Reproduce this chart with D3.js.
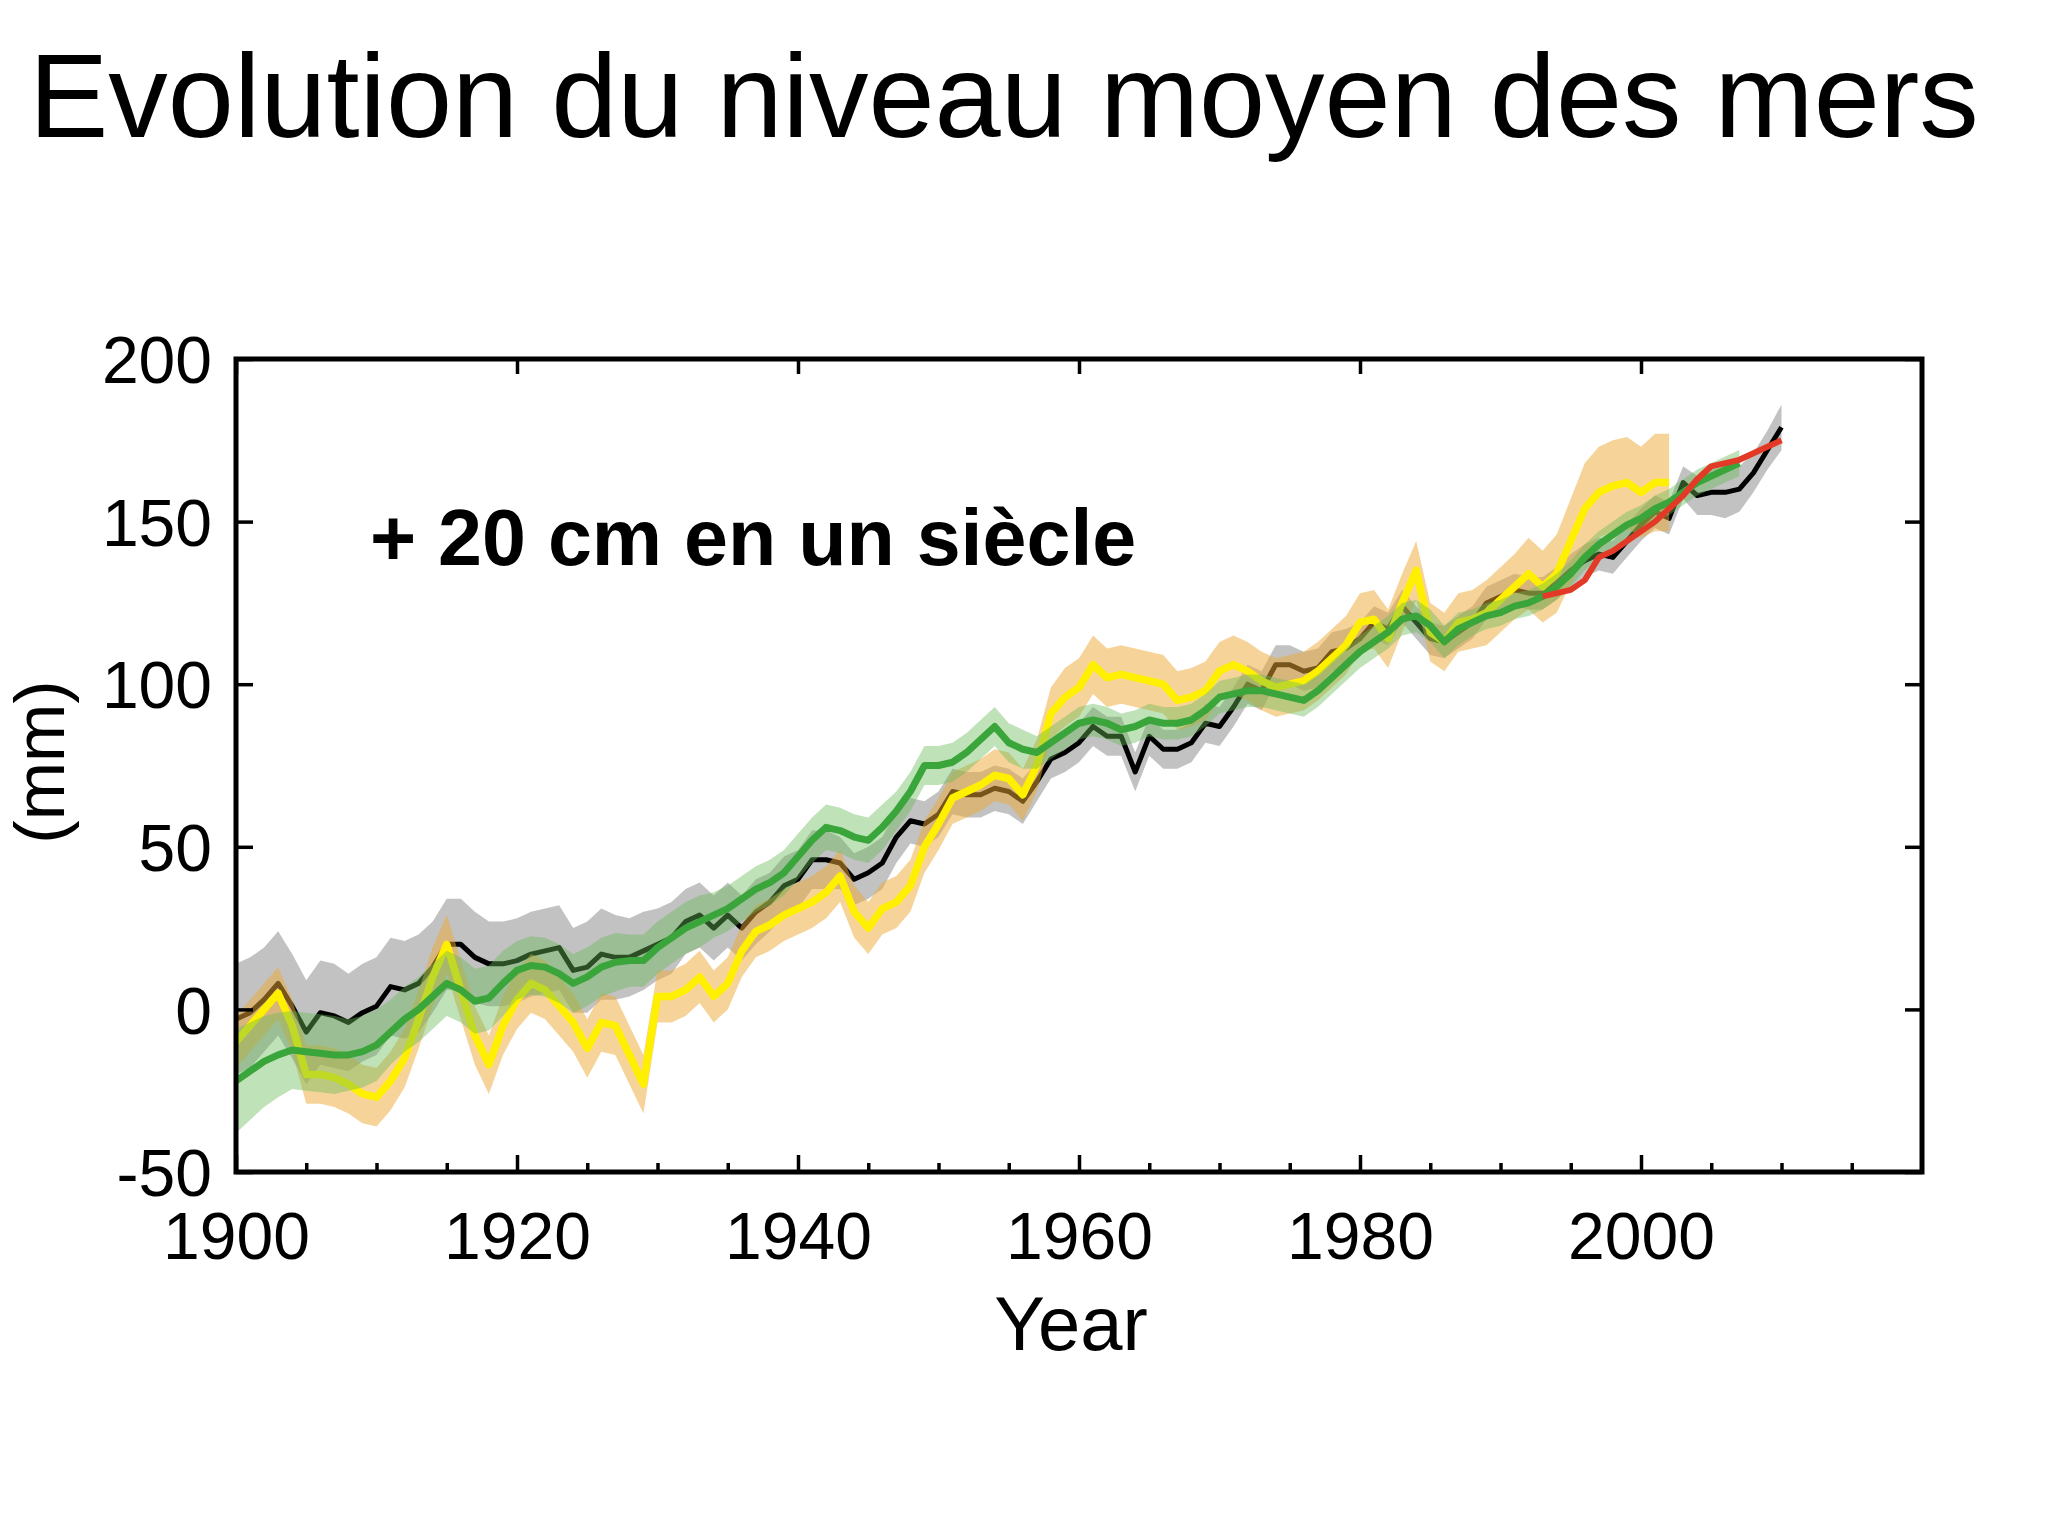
<!DOCTYPE html>
<html>
<head>
<meta charset="utf-8">
<script src="https://cdn.jsdelivr.net/npm/d3@7"></script>
<style>
  html, body { margin: 0; padding: 0; background: #ffffff; }
  svg { display: block; }
  text { font-family: "Liberation Sans", Arial, Helvetica, sans-serif; fill: #000; }
</style>
</head>
<body>
<svg id="chart" width="2048" height="1536"></svg>
<script>
// ---------------- DATA ----------------
const title = "Evolution du niveau moyen des mers";
const annotation = "+ 20 cm en un siècle";
const xLabel = "Year";
const yLabel = "(mm)";
const xTickValues = [1900, 1920, 1940, 1960, 1980, 2000];
const xMinorTickValues = [1905, 1910, 1915, 1925, 1930, 1935, 1945, 1950, 1955, 1965, 1970, 1975, 1985, 1990, 1995, 2005, 2010, 2015];
const yTickValues = [-50, 0, 50, 100, 150, 200];

// Black series (tide-gauge reconstruction), annual from 1900
const blackStart = 1900;
const blackValues = [
  -3, -1, 3, 8, 1, -7, -1, -2, -4, -1,
  1, 7, 6, 8, 13, 20, 20, 16, 14, 14,
  15, 17, 18, 19, 12, 13, 17, 16, 16, 18,
  20, 22, 27, 29, 25, 29, 25, 30, 33, 38,
  40, 46, 46, 45, 40, 42, 45, 53, 58, 57,
  60, 67, 66, 66, 68, 67, 64, 70, 77, 79,
  82, 87, 84, 84, 73, 84, 80, 80, 82, 88,
  87, 93, 100, 98, 106, 106, 104, 105, 110, 111,
  114, 119, 117, 124, 119, 114, 113, 116, 119, 125,
  127, 129, 128, 128, 131, 135, 138, 140, 139, 144,
  149, 153, 151, 162, 158, 159, 159, 160, 165, 172,
  179
];
const blackErr = [
  17, 17, 16, 16, 16, 16, 16, 16, 15, 15,
  15, 15, 15, 15, 14, 14, 14, 14, 13, 13,
  13, 13, 13, 13, 13, 14, 14, 13, 12, 12,
  11, 11, 10, 10, 10, 10, 10, 10, 9, 9,
  9, 9, 9, 8, 8, 8, 8, 8, 7, 7,
  7, 7, 7, 7, 7, 7, 7, 6, 6, 6,
  6, 6, 6, 6, 6, 6, 6, 6, 6, 6,
  6, 6, 6, 6, 6, 6, 6, 6, 6, 6,
  5, 5, 5, 5, 5, 5, 5, 5, 5, 5,
  5, 5, 5, 5, 5, 5, 5, 5, 5, 5,
  5, 5, 5, 5, 6, 7, 8, 7, 6, 6,
  7
];

// Yellow series, annual from 1900 to 2002
const yellowStart = 1900;
const yellowValues = [
  -10, -5, 0, 5, -5, -20, -20, -21, -23, -26,
  -27, -22, -15, -3, 10, 20, 6, -8, -17, -5,
  3, 8, 6, 1, -4, -12, -4, -5, -14, -23,
  4, 4, 6, 10, 4, 8, 18, 24, 26, 29,
  31, 33, 36, 41, 30, 25, 31, 33, 38, 50,
  57, 65, 67, 69, 72, 71, 66, 75, 91, 96,
  99, 106, 102, 103, 102, 101, 100, 95, 96, 98,
  104, 106, 104, 101, 99, 100, 101, 104, 108, 112,
  119, 120, 114, 125, 135, 116, 113, 119, 120, 122,
  126, 130, 134, 130, 134, 144, 154, 159, 161, 162,
  159, 162, 162
];
const yellowErr = [
  8, 8, 8, 8, 8, 9, 9, 9, 9, 9,
  9, 9, 9, 9, 9, 9, 9, 9, 9, 9,
  9, 9, 9, 9, 9, 9, 9, 9, 9, 9,
  8, 8, 8, 8, 8, 8, 8, 8, 8, 8,
  8, 8, 8, 8, 8, 8, 8, 8, 8, 8,
  8, 8, 8, 8, 8, 8, 8, 8, 8, 9,
  9, 9, 9, 9, 9, 9, 9, 9, 9, 9,
  9, 9, 9, 9, 9, 9, 9, 9, 9, 9,
  9, 9, 9, 9, 9, 9, 9, 9, 9, 10,
  10, 10, 11, 11, 12, 13, 14, 14, 14, 14,
  14, 15, 15
];

// Green series, annual from 1900 to 2007
const greenStart = 1900;
const greenValues = [
  -22, -19, -16, -14, -12.5, -13, -13.5, -14, -14, -13,
  -11, -7, -3, 0, 4, 8, 6, 2.5, 3.5, 8,
  12, 13.5, 13, 11, 8, 10, 13, 14.5, 15, 15,
  19, 22, 25, 27, 29, 31, 34, 37, 39, 42,
  47, 52, 56, 55, 53, 52, 56, 61, 67, 75,
  75, 76, 79, 83, 87, 82, 80, 79, 82, 85,
  88, 89, 88, 86, 87, 89, 88, 88, 89, 92,
  96, 97, 98, 98, 97, 96, 95, 98, 102, 106,
  110, 113, 116, 120, 121, 118, 113, 117, 119, 121,
  122, 124, 125, 127, 130, 134, 139, 143, 146, 149,
  151, 154, 156, 159, 162, 164, 166, 168
];
const greenErr = [
  16, 15, 14, 13, 12, 12, 12, 12, 11, 11,
  11, 10, 10, 10, 10, 10, 10, 10, 10, 10,
  9, 9, 9, 9, 9, 9, 9, 9, 8, 8,
  8, 8, 8, 8, 7, 7, 7, 7, 7, 7,
  7, 7, 7, 7, 7, 7, 7, 6, 6, 6,
  6, 6, 6, 6, 6, 6, 6, 5, 5, 5,
  5, 5, 5, 5, 5, 5, 5, 5, 5, 5,
  5, 5, 5, 5, 5, 5, 5, 5, 5, 5,
  5, 5, 5, 5, 5, 5, 5, 5, 4, 4,
  4, 4, 4, 4, 4, 4, 4, 4, 4, 4,
  4, 4, 4, 4, 4, 4, 4, 4
];

// Red series (satellite altimetry), annual from 1993 to 2010
const redStart = 1993;
const redValues = [
  127, 128, 129, 132, 139, 141, 144, 147, 150, 154,
  158, 163, 167, 168, 169, 171, 173, 175
];

// ---------------- BUILD ----------------
(function () {
function toPoints(start, values, errs) {
  return values.map((v, i) => ({ year: start + i, v: v, e: errs ? errs[i] : 0 }));
}
const black = toPoints(blackStart, blackValues, blackErr);
const yellow = toPoints(yellowStart, yellowValues, yellowErr);
const green = toPoints(greenStart, greenValues, greenErr);
const red = toPoints(redStart, redValues, null);

const svg = d3.select("#chart");
const pL = 236, pR = 1922, pT = 359, pB = 1172;

const x = d3.scaleLinear().domain([1900, 2020]).range([pL, pR]);
const y = d3.scaleLinear().domain([-50, 200]).range([pB, pT]);

// Title
const titleText = svg.append("text")
  .attr("x", 29).attr("y", 137)
  .style("font-size", "118px")
  .text(title);
const tw = titleText.node().getComputedTextLength();
if (tw > 0) {
  const fs = Math.max(100, Math.min(130, 118 * 1950 / tw));
  titleText.style("font-size", fs + "px");
}

// Plot clip
svg.append("clipPath").attr("id", "plotclip")
  .append("rect").attr("x", pL).attr("y", pT)
  .attr("width", pR - pL).attr("height", pB - pT);

const plot = svg.append("g").attr("clip-path", "url(#plotclip)");

const area = d3.area()
  .x(d => x(d.year))
  .y0(d => y(d.v - d.e))
  .y1(d => y(d.v + d.e));
const line = d3.line()
  .x(d => x(d.year))
  .y(d => y(d.v));

// gray band + black line
plot.append("path").datum(black).attr("d", area)
  .attr("fill", "#9a9a9a").attr("fill-opacity", 0.6);
plot.append("path").datum(black).attr("d", line)
  .attr("fill", "none").attr("stroke", "#000").attr("stroke-width", 5)
  .attr("stroke-linejoin", "round");

// orange band + yellow line
plot.append("path").datum(yellow).attr("d", area)
  .attr("fill", "#eeaa33").attr("fill-opacity", 0.5);
plot.append("path").datum(yellow).attr("d", line)
  .attr("fill", "none").attr("stroke", "#fff000").attr("stroke-width", 7.5)
  .attr("stroke-linejoin", "round");

// light-green band + green line
plot.append("path").datum(green).attr("d", area)
  .attr("fill", "#66bb55").attr("fill-opacity", 0.42);
plot.append("path").datum(green).attr("d", line)
  .attr("fill", "none").attr("stroke", "#3aa53a").attr("stroke-width", 7)
  .attr("stroke-linejoin", "round");

// red line
plot.append("path").datum(red).attr("d", line)
  .attr("fill", "none").attr("stroke", "#e23a26").attr("stroke-width", 6)
  .attr("stroke-linejoin", "round");

// Axes
const fontTick = "66px";
const plainFormat = d => String(d);

const gx = svg.append("g").attr("transform", `translate(0,${pB})`)
  .call(d3.axisBottom(x).tickValues(xTickValues).tickFormat(plainFormat)
    .tickSize(-17).tickPadding(40));
gx.select(".domain").remove();
gx.selectAll("line").attr("stroke", "#000").attr("stroke-width", 3.5);
gx.selectAll("text").style("font-size", fontTick).attr("fill", "#000");

const gxm = svg.append("g").attr("transform", `translate(0,${pB})`)
  .call(d3.axisBottom(x).tickValues(xMinorTickValues).tickFormat("").tickSize(-9));
gxm.select(".domain").remove();
gxm.selectAll("line").attr("stroke", "#000").attr("stroke-width", 3.5);

const gxt = svg.append("g").attr("transform", `translate(0,${pT})`)
  .call(d3.axisTop(x).tickValues(xTickValues).tickFormat("").tickSize(-15));
gxt.select(".domain").remove();
gxt.selectAll("line").attr("stroke", "#000").attr("stroke-width", 3.5);

const gy = svg.append("g").attr("transform", `translate(${pL},0)`)
  .call(d3.axisLeft(y).tickValues(yTickValues).tickFormat(plainFormat)
    .tickSize(-17).tickPadding(24));
gy.select(".domain").remove();
gy.selectAll("line").attr("stroke", "#000").attr("stroke-width", 3.5);
gy.selectAll("text").style("font-size", fontTick).attr("fill", "#000").attr("dy", "0.36em");

const gyr = svg.append("g").attr("transform", `translate(${pR},0)`)
  .call(d3.axisRight(y).tickValues(yTickValues).tickFormat("").tickSize(-17));
gyr.select(".domain").remove();
gyr.selectAll("line").attr("stroke", "#000").attr("stroke-width", 3.5);

// Frame
svg.append("rect")
  .attr("x", pL).attr("y", pT)
  .attr("width", pR - pL).attr("height", pB - pT)
  .attr("fill", "none").attr("stroke", "#000").attr("stroke-width", 5);

// Axis titles
svg.append("text")
  .attr("x", 1071).attr("y", 1350)
  .attr("text-anchor", "middle")
  .style("font-size", "76px")
  .text(xLabel);

svg.append("text")
  .attr("transform", "translate(64,762) rotate(-90)")
  .attr("text-anchor", "middle")
  .style("font-size", "70px")
  .text(yLabel);

// Annotation
svg.append("text")
  .attr("x", 370).attr("y", 565)
  .style("font-size", "79px")
  .style("font-weight", "bold")
  .text(annotation);
})();
</script>
</body>
</html>
